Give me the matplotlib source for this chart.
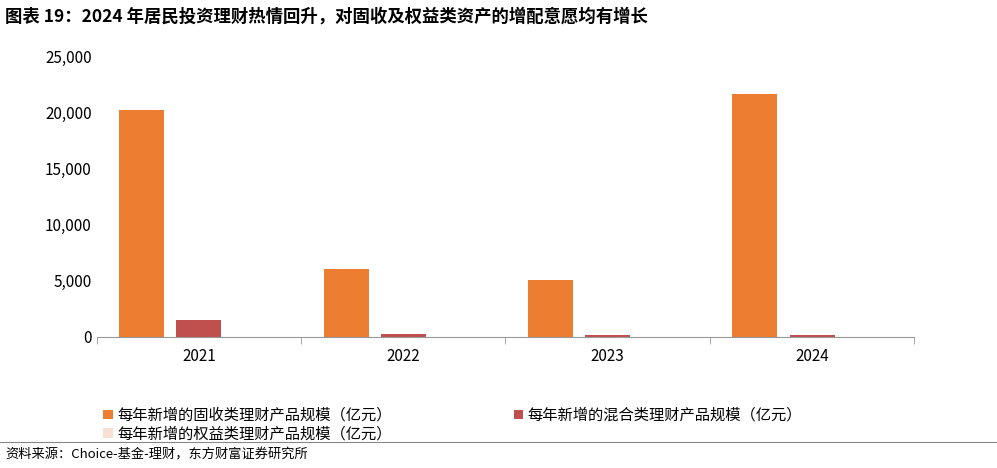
import matplotlib
matplotlib.use("Agg")
import matplotlib.pyplot as plt
import numpy as np

plt.rcParams['font.family'] = ['Noto Sans CJK SC', 'DejaVu Sans']

years = ['2021', '2022', '2023', '2024']
fixed_income = [20200, 6050, 5100, 21650]
mixed = [1550, 250, 200, 200]
equity = [10, 10, 10, 10]

labels = ['每年新增的固收类理财产品规模（亿元）', '每年新增的混合类理财产品规模（亿元）',
          '每年新增的权益类理财产品规模（亿元）']
colors = ['#ED7D31', '#C0504D', '#F8E0D4']

fig = plt.figure(figsize=(9.97, 4.68), dpi=100)
ax = fig.add_axes([0.097, 0.28, 0.82, 0.60])

x = np.arange(len(years))
w = 0.22
b1 = ax.bar(x - 0.28, fixed_income, w, color=colors[0], label=labels[0])
b2 = ax.bar(x, mixed, w, color=colors[1], label=labels[1])
b3 = ax.bar(x + 0.28, equity, w, color=colors[2], label=labels[2])

ax.set_xlim(-0.5, 3.5)
ax.set_ylim(0, 25000)
ax.set_yticks(range(0, 25001, 5000))
ax.set_yticklabels([f'{v:,}' for v in range(0, 25001, 5000)], fontsize=11)
ax.set_xticks(x)
ax.set_xticklabels(years, fontsize=11)
ax.set_xticks([-0.5, 0.5, 1.5, 2.5, 3.5], minor=True)
ax.tick_params(axis='x', which='major', length=0, pad=8)
ax.tick_params(axis='x', which='minor', length=5, color='#999999')
ax.tick_params(axis='y', length=0)
for s in ['top', 'right', 'left']:
    ax.spines[s].set_visible(False)
ax.spines['bottom'].set_color('#999999')

# column-major fill, so order handles to read row by row
fig.legend(handles=[b1, b3, b2], loc='upper left', bbox_to_anchor=(0.09, 0.16),
           ncol=2, frameon=False, fontsize=11, handlelength=0.6, handleheight=0.6,
           columnspacing=8, labelspacing=0.1, handletextpad=0.3)

fig.text(0.005, 0.965, '图表 19：2024 年居民投资理财热情回升，对固收及权益类资产的增配意愿均有增长',
         fontsize=12.5, fontweight='bold', va='center')
fig.add_artist(plt.Line2D([0, 1], [0.055, 0.055], color='#888888', lw=0.8))
fig.text(0.005, 0.028, '资料来源：Choice-基金-理财，东方财富证券研究所', fontsize=9.5, va='center')

fig.savefig('out.png', dpi=100)
